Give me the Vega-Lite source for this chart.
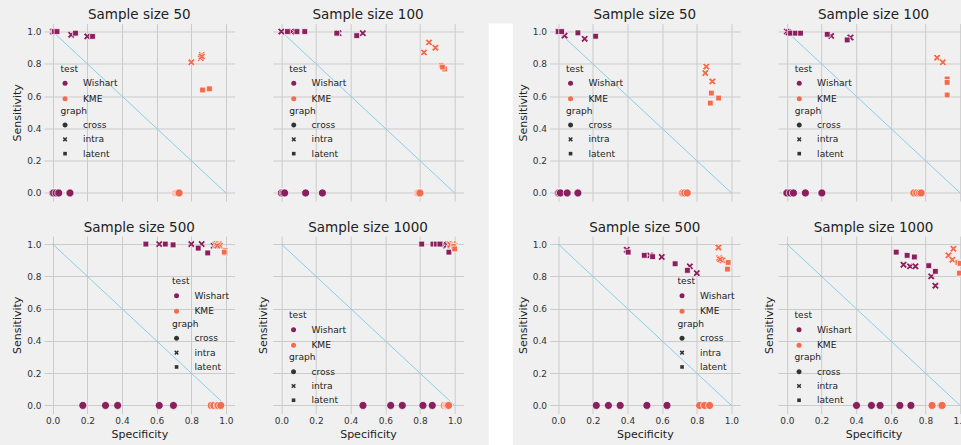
{
"$schema": "https://vega.github.io/schema/vega-lite/v6.json",
"padding": {"left": 11, "top": 7.5, "right": 0, "bottom": 0},
"background": "#f0f0f0",
"datasets": {
"diag": [{"spec": 0, "sens": 1}, {"spec": 1, "sens": 0}],
"pts": [
{"fig":"L","n":50,"test":"Wishart","graph":"cross","spec":0.0,"sens":0},
{"fig":"L","n":50,"test":"Wishart","graph":"cross","spec":0.005,"sens":0},
{"fig":"L","n":50,"test":"Wishart","graph":"cross","spec":0.02,"sens":0},
{"fig":"L","n":50,"test":"Wishart","graph":"cross","spec":0.035,"sens":0},
{"fig":"L","n":50,"test":"Wishart","graph":"cross","spec":0.10,"sens":0},
{"fig":"L","n":50,"test":"Wishart","graph":"intra","spec":0.0,"sens":1.0},
{"fig":"L","n":50,"test":"Wishart","graph":"intra","spec":0.005,"sens":1.0},
{"fig":"L","n":50,"test":"Wishart","graph":"intra","spec":0.107,"sens":0.98},
{"fig":"L","n":50,"test":"Wishart","graph":"intra","spec":0.20,"sens":0.97},
{"fig":"L","n":50,"test":"Wishart","graph":"latent","spec":0.01,"sens":1.0},
{"fig":"L","n":50,"test":"Wishart","graph":"latent","spec":0.025,"sens":1.0},
{"fig":"L","n":50,"test":"Wishart","graph":"latent","spec":0.132,"sens":0.99},
{"fig":"L","n":50,"test":"Wishart","graph":"latent","spec":0.23,"sens":0.97},
{"fig":"L","n":50,"test":"KME","graph":"cross","spec":0.71,"sens":0},
{"fig":"L","n":50,"test":"KME","graph":"cross","spec":0.715,"sens":0},
{"fig":"L","n":50,"test":"KME","graph":"cross","spec":0.72,"sens":0},
{"fig":"L","n":50,"test":"KME","graph":"cross","spec":0.725,"sens":0},
{"fig":"L","n":50,"test":"KME","graph":"cross","spec":0.73,"sens":0},
{"fig":"L","n":50,"test":"KME","graph":"intra","spec":0.80,"sens":0.81},
{"fig":"L","n":50,"test":"KME","graph":"intra","spec":0.86,"sens":0.855},
{"fig":"L","n":50,"test":"KME","graph":"intra","spec":0.855,"sens":0.835},
{"fig":"L","n":50,"test":"KME","graph":"intra","spec":0.86,"sens":0.845},
{"fig":"L","n":50,"test":"KME","graph":"latent","spec":0.865,"sens":0.638},
{"fig":"L","n":50,"test":"KME","graph":"latent","spec":0.90,"sens":0.648},
{"fig":"L","n":50,"test":"KME","graph":"latent","spec":0.905,"sens":0.645},

{"fig":"L","n":100,"test":"Wishart","graph":"cross","spec":0.0,"sens":0},
{"fig":"L","n":100,"test":"Wishart","graph":"cross","spec":0.01,"sens":0},
{"fig":"L","n":100,"test":"Wishart","graph":"cross","spec":0.019,"sens":0},
{"fig":"L","n":100,"test":"Wishart","graph":"cross","spec":0.14,"sens":0},
{"fig":"L","n":100,"test":"Wishart","graph":"cross","spec":0.237,"sens":0},
{"fig":"L","n":100,"test":"Wishart","graph":"intra","spec":0.0,"sens":1.0},
{"fig":"L","n":100,"test":"Wishart","graph":"intra","spec":0.06,"sens":1.0},
{"fig":"L","n":100,"test":"Wishart","graph":"intra","spec":0.08,"sens":1.0},
{"fig":"L","n":100,"test":"Wishart","graph":"intra","spec":0.33,"sens":0.99},
{"fig":"L","n":100,"test":"Wishart","graph":"intra","spec":0.47,"sens":0.99},
{"fig":"L","n":100,"test":"Wishart","graph":"latent","spec":0.035,"sens":1.0},
{"fig":"L","n":100,"test":"Wishart","graph":"latent","spec":0.09,"sens":1.0},
{"fig":"L","n":100,"test":"Wishart","graph":"latent","spec":0.135,"sens":1.0},
{"fig":"L","n":100,"test":"Wishart","graph":"latent","spec":0.32,"sens":0.99},
{"fig":"L","n":100,"test":"Wishart","graph":"latent","spec":0.435,"sens":0.975},
{"fig":"L","n":100,"test":"KME","graph":"cross","spec":0.785,"sens":0},
{"fig":"L","n":100,"test":"KME","graph":"cross","spec":0.79,"sens":0},
{"fig":"L","n":100,"test":"KME","graph":"cross","spec":0.795,"sens":0},
{"fig":"L","n":100,"test":"KME","graph":"cross","spec":0.80,"sens":0},
{"fig":"L","n":100,"test":"KME","graph":"intra","spec":0.823,"sens":0.871},
{"fig":"L","n":100,"test":"KME","graph":"intra","spec":0.852,"sens":0.933},
{"fig":"L","n":100,"test":"KME","graph":"intra","spec":0.889,"sens":0.90},
{"fig":"L","n":100,"test":"KME","graph":"latent","spec":0.923,"sens":0.789},
{"fig":"L","n":100,"test":"KME","graph":"latent","spec":0.942,"sens":0.768},
{"fig":"L","n":100,"test":"KME","graph":"latent","spec":0.93,"sens":0.78},

{"fig":"L","n":500,"test":"Wishart","graph":"cross","spec":0.174,"sens":0},
{"fig":"L","n":500,"test":"Wishart","graph":"cross","spec":0.305,"sens":0},
{"fig":"L","n":500,"test":"Wishart","graph":"cross","spec":0.375,"sens":0},
{"fig":"L","n":500,"test":"Wishart","graph":"cross","spec":0.615,"sens":0},
{"fig":"L","n":500,"test":"Wishart","graph":"cross","spec":0.697,"sens":0},
{"fig":"L","n":500,"test":"Wishart","graph":"intra","spec":0.615,"sens":1.0},
{"fig":"L","n":500,"test":"Wishart","graph":"intra","spec":0.80,"sens":1.0},
{"fig":"L","n":500,"test":"Wishart","graph":"intra","spec":0.86,"sens":1.0},
{"fig":"L","n":500,"test":"Wishart","graph":"intra","spec":0.93,"sens":0.99},
{"fig":"L","n":500,"test":"Wishart","graph":"intra","spec":0.94,"sens":0.995},
{"fig":"L","n":500,"test":"Wishart","graph":"latent","spec":0.538,"sens":1.0},
{"fig":"L","n":500,"test":"Wishart","graph":"latent","spec":0.65,"sens":1.0},
{"fig":"L","n":500,"test":"Wishart","graph":"latent","spec":0.695,"sens":0.995},
{"fig":"L","n":500,"test":"Wishart","graph":"latent","spec":0.84,"sens":0.975},
{"fig":"L","n":500,"test":"Wishart","graph":"latent","spec":0.895,"sens":0.945},
{"fig":"L","n":500,"test":"KME","graph":"cross","spec":0.915,"sens":0},
{"fig":"L","n":500,"test":"KME","graph":"cross","spec":0.93,"sens":0},
{"fig":"L","n":500,"test":"KME","graph":"cross","spec":0.95,"sens":0},
{"fig":"L","n":500,"test":"KME","graph":"cross","spec":0.955,"sens":0},
{"fig":"L","n":500,"test":"KME","graph":"cross","spec":0.97,"sens":0},
{"fig":"L","n":500,"test":"KME","graph":"intra","spec":0.945,"sens":1.0},
{"fig":"L","n":500,"test":"KME","graph":"intra","spec":0.955,"sens":0.995},
{"fig":"L","n":500,"test":"KME","graph":"intra","spec":0.96,"sens":1.0},
{"fig":"L","n":500,"test":"KME","graph":"intra","spec":0.965,"sens":0.99},
{"fig":"L","n":500,"test":"KME","graph":"intra","spec":0.95,"sens":0.99},
{"fig":"L","n":500,"test":"KME","graph":"latent","spec":0.995,"sens":0.96},
{"fig":"L","n":500,"test":"KME","graph":"latent","spec":0.995,"sens":0.945},
{"fig":"L","n":500,"test":"KME","graph":"latent","spec":0.99,"sens":0.95},

{"fig":"L","n":1000,"test":"Wishart","graph":"cross","spec":0.471,"sens":0},
{"fig":"L","n":1000,"test":"Wishart","graph":"cross","spec":0.631,"sens":0},
{"fig":"L","n":1000,"test":"Wishart","graph":"cross","spec":0.698,"sens":0},
{"fig":"L","n":1000,"test":"Wishart","graph":"cross","spec":0.817,"sens":0},
{"fig":"L","n":1000,"test":"Wishart","graph":"cross","spec":0.871,"sens":0},
{"fig":"L","n":1000,"test":"Wishart","graph":"intra","spec":0.94,"sens":1.0},
{"fig":"L","n":1000,"test":"Wishart","graph":"intra","spec":0.95,"sens":0.99},
{"fig":"L","n":1000,"test":"Wishart","graph":"intra","spec":0.96,"sens":1.0},
{"fig":"L","n":1000,"test":"Wishart","graph":"intra","spec":0.975,"sens":0.99},
{"fig":"L","n":1000,"test":"Wishart","graph":"intra","spec":0.955,"sens":0.995},
{"fig":"L","n":1000,"test":"Wishart","graph":"latent","spec":0.81,"sens":1.0},
{"fig":"L","n":1000,"test":"Wishart","graph":"latent","spec":0.875,"sens":1.0},
{"fig":"L","n":1000,"test":"Wishart","graph":"latent","spec":0.895,"sens":1.0},
{"fig":"L","n":1000,"test":"Wishart","graph":"latent","spec":0.915,"sens":1.0},
{"fig":"L","n":1000,"test":"Wishart","graph":"latent","spec":0.967,"sens":0.95},
{"fig":"L","n":1000,"test":"KME","graph":"cross","spec":0.94,"sens":0},
{"fig":"L","n":1000,"test":"KME","graph":"cross","spec":0.95,"sens":0},
{"fig":"L","n":1000,"test":"KME","graph":"cross","spec":0.955,"sens":0},
{"fig":"L","n":1000,"test":"KME","graph":"cross","spec":0.96,"sens":0},
{"fig":"L","n":1000,"test":"KME","graph":"cross","spec":0.965,"sens":0},
{"fig":"L","n":1000,"test":"KME","graph":"intra","spec":0.97,"sens":1.0},
{"fig":"L","n":1000,"test":"KME","graph":"intra","spec":0.98,"sens":0.99},
{"fig":"L","n":1000,"test":"KME","graph":"intra","spec":0.99,"sens":1.0},
{"fig":"L","n":1000,"test":"KME","graph":"intra","spec":0.975,"sens":0.995},
{"fig":"L","n":1000,"test":"KME","graph":"intra","spec":1.0,"sens":0.99},
{"fig":"L","n":1000,"test":"KME","graph":"latent","spec":1.0,"sens":0.98},
{"fig":"L","n":1000,"test":"KME","graph":"latent","spec":0.995,"sens":0.985},
{"fig":"L","n":1000,"test":"KME","graph":"latent","spec":1.0,"sens":0.97},

{"fig":"R","n":50,"test":"Wishart","graph":"cross","spec":0.0,"sens":0},
{"fig":"R","n":50,"test":"Wishart","graph":"cross","spec":0.005,"sens":0},
{"fig":"R","n":50,"test":"Wishart","graph":"cross","spec":0.013,"sens":0},
{"fig":"R","n":50,"test":"Wishart","graph":"cross","spec":0.052,"sens":0},
{"fig":"R","n":50,"test":"Wishart","graph":"cross","spec":0.114,"sens":0},
{"fig":"R","n":50,"test":"Wishart","graph":"intra","spec":0.0,"sens":1.0},
{"fig":"R","n":50,"test":"Wishart","graph":"intra","spec":0.005,"sens":1.0},
{"fig":"R","n":50,"test":"Wishart","graph":"intra","spec":0.037,"sens":0.975},
{"fig":"R","n":50,"test":"Wishart","graph":"intra","spec":0.153,"sens":0.955},
{"fig":"R","n":50,"test":"Wishart","graph":"latent","spec":0.0,"sens":1.0},
{"fig":"R","n":50,"test":"Wishart","graph":"latent","spec":0.02,"sens":1.0},
{"fig":"R","n":50,"test":"Wishart","graph":"latent","spec":0.114,"sens":0.992},
{"fig":"R","n":50,"test":"Wishart","graph":"latent","spec":0.216,"sens":0.971},
{"fig":"R","n":50,"test":"KME","graph":"cross","spec":0.715,"sens":0},
{"fig":"R","n":50,"test":"KME","graph":"cross","spec":0.72,"sens":0},
{"fig":"R","n":50,"test":"KME","graph":"cross","spec":0.73,"sens":0},
{"fig":"R","n":50,"test":"KME","graph":"cross","spec":0.745,"sens":0},
{"fig":"R","n":50,"test":"KME","graph":"intra","spec":0.855,"sens":0.783},
{"fig":"R","n":50,"test":"KME","graph":"intra","spec":0.849,"sens":0.743},
{"fig":"R","n":50,"test":"KME","graph":"intra","spec":0.89,"sens":0.691},
{"fig":"R","n":50,"test":"KME","graph":"latent","spec":0.884,"sens":0.619},
{"fig":"R","n":50,"test":"KME","graph":"latent","spec":0.878,"sens":0.557},
{"fig":"R","n":50,"test":"KME","graph":"latent","spec":0.926,"sens":0.588},

{"fig":"R","n":100,"test":"Wishart","graph":"cross","spec":0.0,"sens":0},
{"fig":"R","n":100,"test":"Wishart","graph":"cross","spec":0.02,"sens":0},
{"fig":"R","n":100,"test":"Wishart","graph":"cross","spec":0.038,"sens":0},
{"fig":"R","n":100,"test":"Wishart","graph":"cross","spec":0.107,"sens":0},
{"fig":"R","n":100,"test":"Wishart","graph":"cross","spec":0.202,"sens":0},
{"fig":"R","n":100,"test":"Wishart","graph":"intra","spec":0.0,"sens":1.0},
{"fig":"R","n":100,"test":"Wishart","graph":"intra","spec":0.01,"sens":0.995},
{"fig":"R","n":100,"test":"Wishart","graph":"intra","spec":0.256,"sens":0.973},
{"fig":"R","n":100,"test":"Wishart","graph":"intra","spec":0.367,"sens":0.963},
{"fig":"R","n":100,"test":"Wishart","graph":"latent","spec":0.021,"sens":0.99},
{"fig":"R","n":100,"test":"Wishart","graph":"latent","spec":0.05,"sens":0.99},
{"fig":"R","n":100,"test":"Wishart","graph":"latent","spec":0.079,"sens":0.99},
{"fig":"R","n":100,"test":"Wishart","graph":"latent","spec":0.233,"sens":0.983},
{"fig":"R","n":100,"test":"Wishart","graph":"latent","spec":0.348,"sens":0.948},
{"fig":"R","n":100,"test":"KME","graph":"cross","spec":0.733,"sens":0},
{"fig":"R","n":100,"test":"KME","graph":"cross","spec":0.75,"sens":0},
{"fig":"R","n":100,"test":"KME","graph":"cross","spec":0.765,"sens":0},
{"fig":"R","n":100,"test":"KME","graph":"cross","spec":0.775,"sens":0},
{"fig":"R","n":100,"test":"KME","graph":"intra","spec":0.867,"sens":0.838},
{"fig":"R","n":100,"test":"KME","graph":"intra","spec":0.90,"sens":0.81},
{"fig":"R","n":100,"test":"KME","graph":"latent","spec":0.925,"sens":0.706},
{"fig":"R","n":100,"test":"KME","graph":"latent","spec":0.925,"sens":0.685},
{"fig":"R","n":100,"test":"KME","graph":"latent","spec":0.925,"sens":0.607},

{"fig":"R","n":500,"test":"Wishart","graph":"cross","spec":0.22,"sens":0},
{"fig":"R","n":500,"test":"Wishart","graph":"cross","spec":0.29,"sens":0},
{"fig":"R","n":500,"test":"Wishart","graph":"cross","spec":0.358,"sens":0},
{"fig":"R","n":500,"test":"Wishart","graph":"cross","spec":0.512,"sens":0},
{"fig":"R","n":500,"test":"Wishart","graph":"cross","spec":0.628,"sens":0},
{"fig":"R","n":500,"test":"Wishart","graph":"intra","spec":0.396,"sens":0.965},
{"fig":"R","n":500,"test":"Wishart","graph":"intra","spec":0.53,"sens":0.93},
{"fig":"R","n":500,"test":"Wishart","graph":"intra","spec":0.598,"sens":0.92},
{"fig":"R","n":500,"test":"Wishart","graph":"intra","spec":0.76,"sens":0.862},
{"fig":"R","n":500,"test":"Wishart","graph":"intra","spec":0.80,"sens":0.82},
{"fig":"R","n":500,"test":"Wishart","graph":"latent","spec":0.404,"sens":0.95},
{"fig":"R","n":500,"test":"Wishart","graph":"latent","spec":0.497,"sens":0.93},
{"fig":"R","n":500,"test":"Wishart","graph":"latent","spec":0.545,"sens":0.922},
{"fig":"R","n":500,"test":"Wishart","graph":"latent","spec":0.675,"sens":0.878},
{"fig":"R","n":500,"test":"Wishart","graph":"latent","spec":0.746,"sens":0.837},
{"fig":"R","n":500,"test":"KME","graph":"cross","spec":0.816,"sens":0},
{"fig":"R","n":500,"test":"KME","graph":"cross","spec":0.845,"sens":0},
{"fig":"R","n":500,"test":"KME","graph":"cross","spec":0.874,"sens":0},
{"fig":"R","n":500,"test":"KME","graph":"intra","spec":0.925,"sens":0.979},
{"fig":"R","n":500,"test":"KME","graph":"intra","spec":0.929,"sens":0.913},
{"fig":"R","n":500,"test":"KME","graph":"intra","spec":0.948,"sens":0.899},
{"fig":"R","n":500,"test":"KME","graph":"intra","spec":0.935,"sens":0.905},
{"fig":"R","n":500,"test":"KME","graph":"latent","spec":0.981,"sens":0.886},
{"fig":"R","n":500,"test":"KME","graph":"latent","spec":0.977,"sens":0.845},

{"fig":"R","n":1000,"test":"Wishart","graph":"cross","spec":0.402,"sens":0},
{"fig":"R","n":1000,"test":"Wishart","graph":"cross","spec":0.488,"sens":0},
{"fig":"R","n":1000,"test":"Wishart","graph":"cross","spec":0.538,"sens":0},
{"fig":"R","n":1000,"test":"Wishart","graph":"cross","spec":0.652,"sens":0},
{"fig":"R","n":1000,"test":"Wishart","graph":"cross","spec":0.716,"sens":0},
{"fig":"R","n":1000,"test":"Wishart","graph":"intra","spec":0.673,"sens":0.872},
{"fig":"R","n":1000,"test":"Wishart","graph":"intra","spec":0.711,"sens":0.862},
{"fig":"R","n":1000,"test":"Wishart","graph":"intra","spec":0.742,"sens":0.862},
{"fig":"R","n":1000,"test":"Wishart","graph":"intra","spec":0.833,"sens":0.80},
{"fig":"R","n":1000,"test":"Wishart","graph":"intra","spec":0.857,"sens":0.742},
{"fig":"R","n":1000,"test":"Wishart","graph":"latent","spec":0.631,"sens":0.95},
{"fig":"R","n":1000,"test":"Wishart","graph":"latent","spec":0.694,"sens":0.93},
{"fig":"R","n":1000,"test":"Wishart","graph":"latent","spec":0.736,"sens":0.92},
{"fig":"R","n":1000,"test":"Wishart","graph":"latent","spec":0.819,"sens":0.866},
{"fig":"R","n":1000,"test":"Wishart","graph":"latent","spec":0.857,"sens":0.831},
{"fig":"R","n":1000,"test":"KME","graph":"cross","spec":0.838,"sens":0},
{"fig":"R","n":1000,"test":"KME","graph":"cross","spec":0.89,"sens":0},
{"fig":"R","n":1000,"test":"KME","graph":"cross","spec":0.896,"sens":0},
{"fig":"R","n":1000,"test":"KME","graph":"intra","spec":0.961,"sens":0.971},
{"fig":"R","n":1000,"test":"KME","graph":"intra","spec":0.933,"sens":0.93},
{"fig":"R","n":1000,"test":"KME","graph":"intra","spec":0.955,"sens":0.903},
{"fig":"R","n":1000,"test":"KME","graph":"latent","spec":0.987,"sens":0.886},
{"fig":"R","n":1000,"test":"KME","graph":"latent","spec":0.996,"sens":0.82},
{"fig":"R","n":1000,"test":"KME","graph":"latent","spec":1.0,"sens":0.88}
]
},
"spacing": 3.5,
"resolve": {"scale": {"color": "independent", "shape": "independent"}},
"hconcat": [
{
"spacing": 24.8,
"resolve": {"scale": {"color": "independent", "shape": "independent"}},
"hconcat": [
{
"spacing": 18.5,
"resolve": {"scale": {"color": "independent", "shape": "independent"}},
"vconcat": [
{
"bounds": "flush",
"spacing": 37.7,
"resolve": {"scale": {"color": "independent", "shape": "independent"}},
"hconcat": [
{"width": 190.6, "height": 177.5, "title": "Sample size 50",
"layer": [
{"data": {"name": "diag"}, "mark": {"type": "line", "color": "#87ceeb", "strokeWidth": 1},
"encoding": {"x": {"field": "spec", "type": "quantitative", "scale": {"domain": [-0.05, 1.05], "nice": false, "zero": false}, "axis": {"values": [0, 0.2, 0.4, 0.6, 0.8, 1], "tickCount": 11, "labels": false, "title": null}},
"y": {"field": "sens", "type": "quantitative", "scale": {"domain": [-0.05, 1.05], "nice": false, "zero": false}, "axis": {"values": [0, 0.2, 0.4, 0.6, 0.8, 1], "tickCount": 11, "format": ".1f", "title": "Sensitivity"}}}},
{"data": {"name": "pts"}, "transform": [{"filter": "datum.fig == 'L' && datum.n == 50"}],
"mark": {"type": "point", "filled": true, "opacity": 1, "stroke": "white", "strokeWidth": 0.7, "size": 64},
"encoding": {"x": {"field": "spec", "type": "quantitative"}, "y": {"field": "sens", "type": "quantitative"},
"color": {"field": "test", "type": "nominal", "scale": {"domain": ["Wishart", "KME"], "range": ["#8a1f5e", "#f36b4c"]}, "legend": {"orient": "none", "legendX": 13.5, "legendY": 38.5, "title": "test", "symbolType": "circle"}},
"shape": {"field": "graph", "type": "nominal", "scale": {"domain": ["cross", "intra", "latent"], "range": ["M1,0A1,1,0,1,1,-1,0A1,1,0,1,1,1,0Z", "M-0.5,0.92L0,0.42L0.5,0.92L0.92,0.5L0.42,0L0.92,-0.5L0.5,-0.92L0,-0.42L-0.5,-0.92L-0.92,-0.5L-0.42,0L-0.92,0.5Z", "M-0.72,-0.72H0.72V0.72H-0.72Z"]}, "legend": {"orient": "none", "legendX": 13.5, "legendY": 80.2, "title": "graph", "symbolFillColor": "#333333", "rowPadding": 4.3}}}}
]},
{"width": 190.6, "height": 177.5, "title": "Sample size 100",
"layer": [
{"data": {"name": "diag"}, "mark": {"type": "line", "color": "#87ceeb", "strokeWidth": 1},
"encoding": {"x": {"field": "spec", "type": "quantitative", "scale": {"domain": [-0.05, 1.05], "nice": false, "zero": false}, "axis": {"values": [0, 0.2, 0.4, 0.6, 0.8, 1], "tickCount": 11, "labels": false, "title": null}},
"y": {"field": "sens", "type": "quantitative", "scale": {"domain": [-0.05, 1.05], "nice": false, "zero": false}, "axis": {"values": [0, 0.2, 0.4, 0.6, 0.8, 1], "tickCount": 11, "labels": false, "title": null}}}},
{"data": {"name": "pts"}, "transform": [{"filter": "datum.fig == 'L' && datum.n == 100"}],
"mark": {"type": "point", "filled": true, "opacity": 1, "stroke": "white", "strokeWidth": 0.7, "size": 64},
"encoding": {"x": {"field": "spec", "type": "quantitative"}, "y": {"field": "sens", "type": "quantitative"},
"color": {"field": "test", "type": "nominal", "scale": {"domain": ["Wishart", "KME"], "range": ["#8a1f5e", "#f36b4c"]}, "legend": {"orient": "none", "legendX": 13.5, "legendY": 38.5, "title": "test", "symbolType": "circle"}},
"shape": {"field": "graph", "type": "nominal", "scale": {"domain": ["cross", "intra", "latent"], "range": ["M1,0A1,1,0,1,1,-1,0A1,1,0,1,1,1,0Z", "M-0.5,0.92L0,0.42L0.5,0.92L0.92,0.5L0.42,0L0.92,-0.5L0.5,-0.92L0,-0.42L-0.5,-0.92L-0.92,-0.5L-0.42,0L-0.92,0.5Z", "M-0.72,-0.72H0.72V0.72H-0.72Z"]}, "legend": {"orient": "none", "legendX": 13.5, "legendY": 80.2, "title": "graph", "symbolFillColor": "#333333", "rowPadding": 4.3}}}}
]}
]
},
{
"bounds": "flush",
"spacing": 37.7,
"resolve": {"scale": {"color": "independent", "shape": "independent"}},
"hconcat": [
{"width": 190.6, "height": 177.5, "title": "Sample size 500",
"layer": [
{"data": {"name": "diag"}, "mark": {"type": "line", "color": "#87ceeb", "strokeWidth": 1},
"encoding": {"x": {"field": "spec", "type": "quantitative", "scale": {"domain": [-0.05, 1.05], "nice": false, "zero": false}, "axis": {"values": [0, 0.2, 0.4, 0.6, 0.8, 1], "tickCount": 11, "format": ".1f", "title": "Specificity", "titlePadding": 3}},
"y": {"field": "sens", "type": "quantitative", "scale": {"domain": [-0.05, 1.05], "nice": false, "zero": false}, "axis": {"values": [0, 0.2, 0.4, 0.6, 0.8, 1], "tickCount": 11, "format": ".1f", "title": "Sensitivity"}}}},
{"data": {"name": "pts"}, "transform": [{"filter": "datum.fig == 'L' && datum.n == 500"}],
"mark": {"type": "point", "filled": true, "opacity": 1, "stroke": "white", "strokeWidth": 0.7, "size": 64},
"encoding": {"x": {"field": "spec", "type": "quantitative"}, "y": {"field": "sens", "type": "quantitative"},
"color": {"field": "test", "type": "nominal", "scale": {"domain": ["Wishart", "KME"], "range": ["#8a1f5e", "#f36b4c"]}, "legend": {"orient": "none", "legendX": 125, "legendY": 38.3, "title": "test", "symbolType": "circle"}},
"shape": {"field": "graph", "type": "nominal", "scale": {"domain": ["cross", "intra", "latent"], "range": ["M1,0A1,1,0,1,1,-1,0A1,1,0,1,1,1,0Z", "M-0.5,0.92L0,0.42L0.5,0.92L0.92,0.5L0.42,0L0.92,-0.5L0.5,-0.92L0,-0.42L-0.5,-0.92L-0.92,-0.5L-0.42,0L-0.92,0.5Z", "M-0.72,-0.72H0.72V0.72H-0.72Z"]}, "legend": {"orient": "none", "legendX": 125, "legendY": 81, "title": "graph", "symbolFillColor": "#333333", "rowPadding": 4.3}}}}
]},
{"width": 190.6, "height": 177.5, "title": "Sample size 1000",
"layer": [
{"data": {"name": "diag"}, "mark": {"type": "line", "color": "#87ceeb", "strokeWidth": 1},
"encoding": {"x": {"field": "spec", "type": "quantitative", "scale": {"domain": [-0.05, 1.05], "nice": false, "zero": false}, "axis": {"values": [0, 0.2, 0.4, 0.6, 0.8, 1], "tickCount": 11, "format": ".1f", "title": "Specificity", "titlePadding": 3}},
"y": {"field": "sens", "type": "quantitative", "scale": {"domain": [-0.05, 1.05], "nice": false, "zero": false}, "axis": {"values": [0, 0.2, 0.4, 0.6, 0.8, 1], "tickCount": 11, "labels": false, "title": "Sensitivity"}}}},
{"data": {"name": "pts"}, "transform": [{"filter": "datum.fig == 'L' && datum.n == 1000"}],
"mark": {"type": "point", "filled": true, "opacity": 1, "stroke": "white", "strokeWidth": 0.7, "size": 64},
"encoding": {"x": {"field": "spec", "type": "quantitative"}, "y": {"field": "sens", "type": "quantitative"},
"color": {"field": "test", "type": "nominal", "scale": {"domain": ["Wishart", "KME"], "range": ["#8a1f5e", "#f36b4c"]}, "legend": {"orient": "none", "legendX": 13.3, "legendY": 72.3, "title": "test", "symbolType": "circle"}},
"shape": {"field": "graph", "type": "nominal", "scale": {"domain": ["cross", "intra", "latent"], "range": ["M1,0A1,1,0,1,1,-1,0A1,1,0,1,1,1,0Z", "M-0.5,0.92L0,0.42L0.5,0.92L0.92,0.5L0.42,0L0.92,-0.5L0.5,-0.92L0,-0.42L-0.5,-0.92L-0.92,-0.5L-0.42,0L-0.92,0.5Z", "M-0.72,-0.72H0.72V0.72H-0.72Z"]}, "legend": {"orient": "none", "legendX": 13.3, "legendY": 114.3, "title": "graph", "symbolFillColor": "#333333", "rowPadding": 4.3}}}}
]}
]
}
]
},
{"width": 24, "height": 441, "data": {"values": []}, "mark": "point", "view": {"fill": "white", "stroke": null}}
]
},
{
"spacing": 18.5,
"resolve": {"scale": {"color": "independent", "shape": "independent"}},
"vconcat": [
{
"bounds": "flush",
"spacing": 37.7,
"resolve": {"scale": {"color": "independent", "shape": "independent"}},
"hconcat": [
{"width": 190.6, "height": 177.5, "title": "Sample size 50",
"layer": [
{"data": {"name": "diag"}, "mark": {"type": "line", "color": "#87ceeb", "strokeWidth": 1},
"encoding": {"x": {"field": "spec", "type": "quantitative", "scale": {"domain": [-0.05, 1.05], "nice": false, "zero": false}, "axis": {"values": [0, 0.2, 0.4, 0.6, 0.8, 1], "tickCount": 11, "labels": false, "title": null}},
"y": {"field": "sens", "type": "quantitative", "scale": {"domain": [-0.05, 1.05], "nice": false, "zero": false}, "axis": {"values": [0, 0.2, 0.4, 0.6, 0.8, 1], "tickCount": 11, "format": ".1f", "title": "Sensitivity"}}}},
{"data": {"name": "pts"}, "transform": [{"filter": "datum.fig == 'R' && datum.n == 50"}],
"mark": {"type": "point", "filled": true, "opacity": 1, "stroke": "white", "strokeWidth": 0.7, "size": 64},
"encoding": {"x": {"field": "spec", "type": "quantitative"}, "y": {"field": "sens", "type": "quantitative"},
"color": {"field": "test", "type": "nominal", "scale": {"domain": ["Wishart", "KME"], "range": ["#8a1f5e", "#f36b4c"]}, "legend": {"orient": "none", "legendX": 13.5, "legendY": 38.5, "title": "test", "symbolType": "circle"}},
"shape": {"field": "graph", "type": "nominal", "scale": {"domain": ["cross", "intra", "latent"], "range": ["M1,0A1,1,0,1,1,-1,0A1,1,0,1,1,1,0Z", "M-0.5,0.92L0,0.42L0.5,0.92L0.92,0.5L0.42,0L0.92,-0.5L0.5,-0.92L0,-0.42L-0.5,-0.92L-0.92,-0.5L-0.42,0L-0.92,0.5Z", "M-0.72,-0.72H0.72V0.72H-0.72Z"]}, "legend": {"orient": "none", "legendX": 13.5, "legendY": 80.2, "title": "graph", "symbolFillColor": "#333333", "rowPadding": 4.3}}}}
]},
{"width": 190.6, "height": 177.5, "title": "Sample size 100",
"layer": [
{"data": {"name": "diag"}, "mark": {"type": "line", "color": "#87ceeb", "strokeWidth": 1},
"encoding": {"x": {"field": "spec", "type": "quantitative", "scale": {"domain": [-0.05, 1.05], "nice": false, "zero": false}, "axis": {"values": [0, 0.2, 0.4, 0.6, 0.8, 1], "tickCount": 11, "labels": false, "title": null}},
"y": {"field": "sens", "type": "quantitative", "scale": {"domain": [-0.05, 1.05], "nice": false, "zero": false}, "axis": {"values": [0, 0.2, 0.4, 0.6, 0.8, 1], "tickCount": 11, "labels": false, "title": null}}}},
{"data": {"name": "pts"}, "transform": [{"filter": "datum.fig == 'R' && datum.n == 100"}],
"mark": {"type": "point", "filled": true, "opacity": 1, "stroke": "white", "strokeWidth": 0.7, "size": 64},
"encoding": {"x": {"field": "spec", "type": "quantitative"}, "y": {"field": "sens", "type": "quantitative"},
"color": {"field": "test", "type": "nominal", "scale": {"domain": ["Wishart", "KME"], "range": ["#8a1f5e", "#f36b4c"]}, "legend": {"orient": "none", "legendX": 13.5, "legendY": 38.5, "title": "test", "symbolType": "circle"}},
"shape": {"field": "graph", "type": "nominal", "scale": {"domain": ["cross", "intra", "latent"], "range": ["M1,0A1,1,0,1,1,-1,0A1,1,0,1,1,1,0Z", "M-0.5,0.92L0,0.42L0.5,0.92L0.92,0.5L0.42,0L0.92,-0.5L0.5,-0.92L0,-0.42L-0.5,-0.92L-0.92,-0.5L-0.42,0L-0.92,0.5Z", "M-0.72,-0.72H0.72V0.72H-0.72Z"]}, "legend": {"orient": "none", "legendX": 13.5, "legendY": 80.2, "title": "graph", "symbolFillColor": "#333333", "rowPadding": 4.3}}}}
]}
]
},
{
"bounds": "flush",
"spacing": 37.7,
"resolve": {"scale": {"color": "independent", "shape": "independent"}},
"hconcat": [
{"width": 190.6, "height": 177.5, "title": "Sample size 500",
"layer": [
{"data": {"name": "diag"}, "mark": {"type": "line", "color": "#87ceeb", "strokeWidth": 1},
"encoding": {"x": {"field": "spec", "type": "quantitative", "scale": {"domain": [-0.05, 1.05], "nice": false, "zero": false}, "axis": {"values": [0, 0.2, 0.4, 0.6, 0.8, 1], "tickCount": 11, "format": ".1f", "title": "Specificity", "titlePadding": 3}},
"y": {"field": "sens", "type": "quantitative", "scale": {"domain": [-0.05, 1.05], "nice": false, "zero": false}, "axis": {"values": [0, 0.2, 0.4, 0.6, 0.8, 1], "tickCount": 11, "format": ".1f", "title": "Sensitivity"}}}},
{"data": {"name": "pts"}, "transform": [{"filter": "datum.fig == 'R' && datum.n == 500"}],
"mark": {"type": "point", "filled": true, "opacity": 1, "stroke": "white", "strokeWidth": 0.7, "size": 64},
"encoding": {"x": {"field": "spec", "type": "quantitative"}, "y": {"field": "sens", "type": "quantitative"},
"color": {"field": "test", "type": "nominal", "scale": {"domain": ["Wishart", "KME"], "range": ["#8a1f5e", "#f36b4c"]}, "legend": {"orient": "none", "legendX": 125, "legendY": 38.3, "title": "test", "symbolType": "circle"}},
"shape": {"field": "graph", "type": "nominal", "scale": {"domain": ["cross", "intra", "latent"], "range": ["M1,0A1,1,0,1,1,-1,0A1,1,0,1,1,1,0Z", "M-0.5,0.92L0,0.42L0.5,0.92L0.92,0.5L0.42,0L0.92,-0.5L0.5,-0.92L0,-0.42L-0.5,-0.92L-0.92,-0.5L-0.42,0L-0.92,0.5Z", "M-0.72,-0.72H0.72V0.72H-0.72Z"]}, "legend": {"orient": "none", "legendX": 125, "legendY": 81, "title": "graph", "symbolFillColor": "#333333", "rowPadding": 4.3}}}}
]},
{"width": 190.6, "height": 177.5, "title": "Sample size 1000",
"layer": [
{"data": {"name": "diag"}, "mark": {"type": "line", "color": "#87ceeb", "strokeWidth": 1},
"encoding": {"x": {"field": "spec", "type": "quantitative", "scale": {"domain": [-0.05, 1.05], "nice": false, "zero": false}, "axis": {"values": [0, 0.2, 0.4, 0.6, 0.8, 1], "tickCount": 11, "format": ".1f", "title": "Specificity", "titlePadding": 3}},
"y": {"field": "sens", "type": "quantitative", "scale": {"domain": [-0.05, 1.05], "nice": false, "zero": false}, "axis": {"values": [0, 0.2, 0.4, 0.6, 0.8, 1], "tickCount": 11, "labels": false, "title": "Sensitivity"}}}},
{"data": {"name": "pts"}, "transform": [{"filter": "datum.fig == 'R' && datum.n == 1000"}],
"mark": {"type": "point", "filled": true, "opacity": 1, "stroke": "white", "strokeWidth": 0.7, "size": 64},
"encoding": {"x": {"field": "spec", "type": "quantitative"}, "y": {"field": "sens", "type": "quantitative"},
"color": {"field": "test", "type": "nominal", "scale": {"domain": ["Wishart", "KME"], "range": ["#8a1f5e", "#f36b4c"]}, "legend": {"orient": "none", "legendX": 13.3, "legendY": 72.3, "title": "test", "symbolType": "circle"}},
"shape": {"field": "graph", "type": "nominal", "scale": {"domain": ["cross", "intra", "latent"], "range": ["M1,0A1,1,0,1,1,-1,0A1,1,0,1,1,1,0Z", "M-0.5,0.92L0,0.42L0.5,0.92L0.92,0.5L0.42,0L0.92,-0.5L0.5,-0.92L0,-0.42L-0.5,-0.92L-0.92,-0.5L-0.42,0L-0.92,0.5Z", "M-0.72,-0.72H0.72V0.72H-0.72Z"]}, "legend": {"orient": "none", "legendX": 13.3, "legendY": 114.3, "title": "graph", "symbolFillColor": "#333333", "rowPadding": 4.3}}}}
]}
]
}
]
}
],
"config": {
"font": "DejaVu Sans",
"view": {"stroke": null},
"axis": {"grid": true, "gridColor": "#cbcbcb", "gridWidth": 1, "domain": false, "ticks": false, "labelFont": "DejaVu Sans", "labelFontSize": 9, "labelColor": "#333333", "labelPadding": 3, "titleFont": "DejaVu Sans", "titleFontSize": 11, "titleFontWeight": "normal", "titleColor": "#222222", "titlePadding": 4, "labelOverlap": false},
"title": {"font": "DejaVu Sans", "fontSize": 13.5, "fontWeight": "normal", "color": "#222222", "offset": 2, "anchor": "middle", "frame": "group", "baseline": "alphabetic"},
"legend": {"labelFont": "DejaVu Sans", "labelFontSize": 9.1, "labelColor": "#222222", "titleFont": "DejaVu Sans", "titleFontSize": 9.1, "titleFontWeight": "normal", "titleColor": "#222222", "padding": 3, "titlePadding": 4.7, "rowPadding": 5.5, "symbolSize": 25, "labelOffset": 13.3, "symbolStrokeWidth": 0, "symbolOpacity": 1}
}
}
